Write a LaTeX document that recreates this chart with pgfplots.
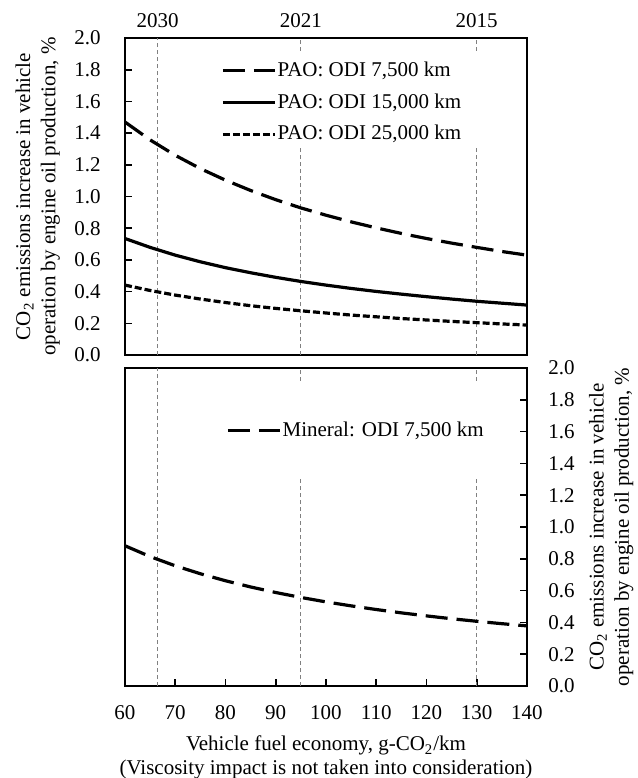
\documentclass[border=0pt]{standalone}
\usepackage{pgfplots}
\pgfplotsset{compat=1.18}
\usepackage{fontspec}
\setmainfont{Liberation Serif}

% CO2 increase (%) vs. fuel economy (g-CO2/km)
\pgfplotstableread{
x    paoA  paoB  paoC  minA
60   1.470 0.735 0.441 0.882
65   1.357 0.679 0.407 0.814
70   1.260 0.630 0.378 0.756
75   1.176 0.588 0.353 0.706
80   1.103 0.551 0.331 0.662
85   1.038 0.519 0.311 0.623
90   0.980 0.490 0.294 0.588
95   0.928 0.464 0.279 0.557
100  0.882 0.441 0.265 0.529
105  0.840 0.420 0.252 0.504
110  0.802 0.401 0.241 0.481
115  0.767 0.384 0.230 0.460
120  0.735 0.368 0.221 0.441
125  0.706 0.353 0.212 0.423
130  0.679 0.339 0.204 0.407
135  0.653 0.327 0.196 0.392
140  0.630 0.315 0.189 0.378
}\data

\definecolor{refline}{RGB}{128,128,128}

\begin{document}
\fontsize{10.5}{12.6}\selectfont
\begin{tikzpicture}
% page frame, same margins as the original figure
\useasboundingbox (-62.5pt,-211.5pt) rectangle (256.5pt,177.5pt);
\pgfplotsset{
  panel/.style={
    width=201pt, scale only axis,
    xmin=60, xmax=140, ymin=0, ymax=2,
    ytick={0,0.2,0.4,0.6,0.8,1.0,1.2,1.4,1.6,1.8,2.0},
    y tick label style={/pgf/number format/fixed, /pgf/number format/fixed zerofill, /pgf/number format/precision=1},
    /pgf/number format/assume math mode=true,
    tick align=inside,
    major tick length=3.5pt,
    major tick style={black, line width=0.8pt},
    axis line style={line width=1pt},
    legend cell align=left,
    legend image code/.code={\draw[##1] (0pt,0pt) -- (26pt,0pt);},
  },
  guide/.style={refline, line width=0.6pt, dash pattern=on 2pt off 1.5pt, forget plot},
  longdash/.style={black, line width=1.6pt, dash pattern=on 11pt off 4.5pt},
  shortdash/.style={black, line width=1.6pt, dash pattern=on 3.5pt off 1.5pt},
}

\begin{axis}[panel, name=top, height=158.5pt, at={(0,0)}, anchor=south west,
  xtick={66.5,95,130}, xticklabels={2030,2021,2015},
  xticklabel pos=right, xtick style={draw=none},
  xticklabel style={yshift=1.5pt},
  ytick pos=left,
  yticklabel style={xshift=-8.5pt},
  ylabel style={align=center},
  ylabel={CO\textsubscript{2} emissions increase in vehicle\\operation by engine oil production, \%},
  legend style={at={(axis cs:79.1,1.858)}, anchor=north west, draw=none, fill=none,
    inner sep=0pt, row sep=6pt, nodes={inner sep=0.5pt}},
]
\addplot[guide] coordinates {(66.5,0) (66.5,2)};
\addplot[guide] coordinates {(95,0) (95,1.31)};
\addplot[guide] coordinates {(95,1.92) (95,2)};
\addplot[guide] coordinates {(130,0) (130,1.31)};
\addplot[guide] coordinates {(130,1.92) (130,2)};
\addplot[longdash] table[x=x, y=paoA] {\data};
\addlegendentry{PAO: ODI 7,500 km}
\addplot[black, line width=1.6pt] table[x=x, y=paoB] {\data};
\addlegendentry{PAO: ODI 15,000 km}
\addplot[shortdash] table[x=x, y=paoC] {\data};
\addlegendentry{PAO: ODI 25,000 km}
\end{axis}

\begin{axis}[panel, height=159pt,
  at={(top.south west)}, anchor=north west, yshift=-6.5pt,
  xtick={60,70,...,140}, xtick pos=left,
  xticklabel style={yshift=-6pt},
  ytick pos=right, yticklabel pos=right,
  yticklabel style={xshift=7pt},
  ylabel near ticks,
  ylabel style={align=center},
  ylabel shift=0pt,
  ylabel={CO\textsubscript{2} emissions increase in vehicle\\operation by engine oil production, \%},
  xlabel style={align=center, font=\fontsize{10.5}{12}\selectfont},
  xlabel shift=1pt,
  xlabel={Vehicle fuel economy, g-CO\textsubscript{2}/km\\(Viscosity impact is not taken into consideration)},
  legend style={at={(axis cs:80.1,1.67)}, anchor=north west, draw=none, fill=none,
    inner sep=0pt, nodes={inner sep=0.5pt}},
]
\addplot[guide] coordinates {(66.5,0) (66.5,2)};
\addplot[guide] coordinates {(95,0) (95,1.30)};
\addplot[guide] coordinates {(95,1.92) (95,2)};
\addplot[guide] coordinates {(130,0) (130,1.30)};
\addplot[guide] coordinates {(130,1.92) (130,2)};
\addplot[longdash] table[x=x, y=minA] {\data};
\addlegendentry{Mineral: ODI 7,500 km}
\end{axis}
\end{tikzpicture}
\end{document}
